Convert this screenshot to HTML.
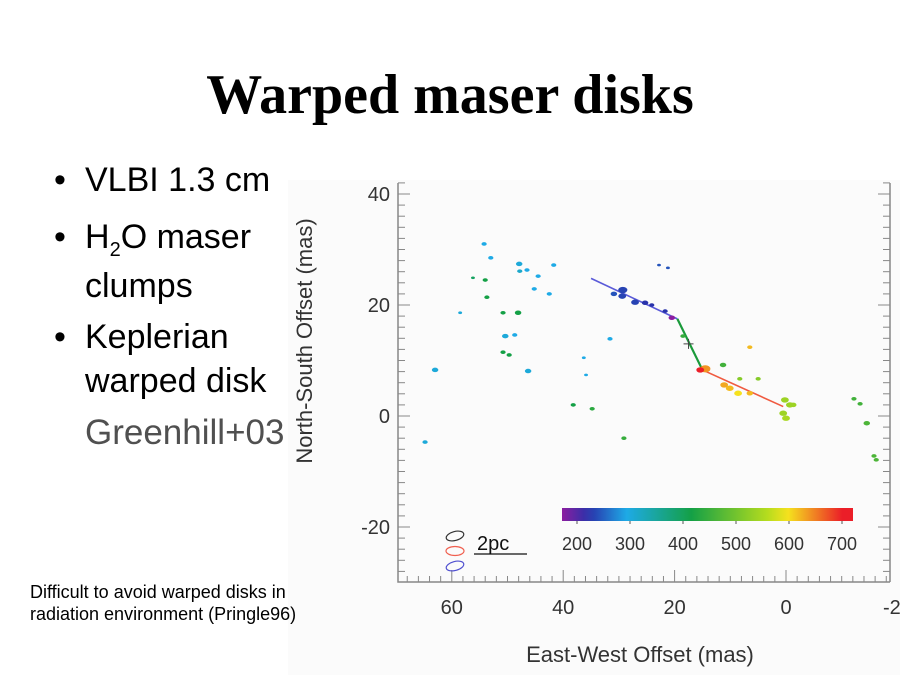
<!DOCTYPE html>
<html><head><meta charset="utf-8"><style>
body{margin:0;width:900px;height:675px;background:#fff;position:relative;overflow:hidden;font-family:"Liberation Sans",sans-serif}
.t{position:absolute;white-space:nowrap}
.b{position:absolute;left:54px;font-size:34px;line-height:44px}
.b span.d{position:absolute;left:0}
.b div{margin-left:31px}
</style></head><body>
<div class="t" style="left:0;width:900px;text-align:center;top:63px;font-family:'Liberation Serif',serif;font-weight:bold;font-size:56px">Warped maser disks</div>
<div>
<div class="b" style="top:158px"><span class="d">•</span><div>VLBI 1.3 cm</div></div>
<div class="b" style="top:215px"><span class="d">•</span><div>H<span style="font-size:20px;position:relative;top:8px">2</span>O maser<br>clumps</div></div>
<div class="b" style="top:315px"><span class="d">•</span><div>Keplerian<br>warped disk</div></div>
<div class="t" style="left:85px;top:413px;font-size:35px;color:#505050">Greenhill+03</div>
</div>
<svg id="chart" width="612" height="495" style="position:absolute;left:288px;top:180px" viewBox="288 180 612 495"></svg>
<div class="t" style="left:30px;top:581px;font-size:18px;line-height:22px;z-index:2">Difficult to avoid warped disks in<br>radiation environment (Pringle96)</div>
<script>
const xs=[54.2,53.0,56.2,54.0,47.9,47.8,46.5,44.5,41.7,45.2,53.7,42.5,58.5,50.8,48.1,50.4,48.7,50.8,49.7,46.3,63.0,36.3,35.9,31.6,22.8,21.2,38.2,34.8,29.1,64.8,-12.2,-13.3,-14.5,-15.8,-16.2,6.5,11.3,5.0,8.3,29.3,29.4,30.9,27.1,25.3,24.1,21.7,20.5,18.5,14.5,15.4,11.1,10.1,8.6,6.5,0.2,-0.7,0.5,0,-1.3];
const ys=[31.0,28.5,24.9,24.5,27.4,26.1,26.3,25.2,27.2,22.9,21.4,22.0,18.6,18.6,18.6,14.4,14.6,11.5,11.0,8.1,8.3,10.5,7.4,13.9,27.2,26.7,2.0,1.3,-4.0,-4.7,3.1,2.2,-1.3,-7.2,-7.9,12.4,9.2,6.7,6.7,22.7,21.6,22.0,20.5,20.4,20.0,18.9,17.7,14.4,8.5,8.3,5.6,5.0,4.1,4.1,2.9,2.0,0.5,-0.4,2.0];
const vel=[300,300,400,420,310,320,300,300,300,300,420,300,310,420,420,310,300,420,420,310,310,300,300,300,250,250,420,440,450,310,460,460,470,470,470,620,460,520,520,240,240,250,240,230,230,230,180,450,640,700,630,620,600,620,540,540,540,550,540];
const sizes=[2,2,1.5,2,2.5,2,2,2,2,2,2,2,1.5,2,2.5,2.5,2,2,2,2.5,2.5,1.5,1.5,2,1.5,1.5,2,2,2,2,2,2,2.5,2,2,2,2.5,2,2,3.5,3,2.5,3,2.5,2,2,2.5,2,4,3,3,3,3,2.5,3,3,3,3,2.5];
const xTicks=[60,40,20,0,-20];
const yTicks=[40,20,0,-20];
const cbTicks=[200,300,400,500,600,700];
const warpLineX=[35,19.5,15.0,0.5];
const warpLineY=[24.8,17.5,8.3,1.7];
const lineColors=['#5a5ad8','#1a9a3a','#f05a40'];
const X=v=>786-5.57*v, Y=v=>416-5.55*v;
const CB=v=>577+(v-200)*0.53;
const svg=document.getElementById('chart');
const NS='http://www.w3.org/2000/svg';
function mk(tag,attrs,parent){const e=document.createElementNS(NS,tag);for(const k in attrs)e.setAttribute(k,attrs[k]);(parent||svg).appendChild(e);return e;}
function vcol(v){const stops=[[180,[140,30,160]],[230,[40,50,170]],[300,[30,170,230]],[420,[20,160,70]],[560,[180,220,30]],[600,[245,225,30]],[700,[235,30,40]]];
 if(v<=stops[0][0])return 'rgb('+stops[0][1]+')';for(let i=1;i<stops.length;i++){if(v<=stops[i][0]){const a=stops[i-1],b=stops[i],t=(v-a[0])/(b[0]-a[0]);return 'rgb('+a[1].map((c,j)=>Math.round(c+(b[1][j]-c)*t))+')';}}return 'rgb('+stops[stops.length-1][1]+')';}
let bg=mk('rect',{x:288,y:180,width:612,height:495,fill:'#fbfbfb'});


let fr=mk('path',{d:'M398,183 V582 H890 M890,183 V582',stroke:'#888',fill:'none','stroke-width':1.5});


for(let v=-28;v<=42;v+=2){const y=Y(v);const maj=v%20===0;
 const t=mk('line',{x1:398,x2:398+(maj?12:7),y1:y,y2:y,stroke:'#888','stroke-width':1});
 
 
 const t2=mk('line',{x1:890,x2:890-(maj?12:7),y1:y,y2:y,stroke:'#888','stroke-width':1});
 
 }
for(let v=-18;v<=68;v+=2){const x=X(v);const maj=v%20===0;
 const t=mk('line',{x1:x,x2:x,y1:582,y2:582-(maj?12:6),stroke:'#888','stroke-width':1});
 
 }
yTicks.forEach(v=>{const t=mk('text',{x:390,y:Y(v)+7,'text-anchor':'end','font-size':20,fill:'#333','font-family':'Liberation Sans'});t.textContent=v;
 
 });
xTicks.forEach(v=>{const t=mk('text',{x:X(v),y:614,'text-anchor':'middle','font-size':20,fill:'#333','font-family':'Liberation Sans'});t.textContent=v;
 
 });
let xl=mk('text',{x:640,y:662,'text-anchor':'middle','font-size':22,fill:'#333','font-family':'Liberation Sans'});xl.textContent='East-West Offset (mas)';


let yl=mk('text',{x:0,y:0,'text-anchor':'middle','font-size':22,fill:'#333','font-family':'Liberation Sans',transform:'translate(312,341) rotate(-90)'});yl.textContent='North-South Offset (mas)';


const defs=mk('defs',{});const g=mk('linearGradient',{id:'cbg',x1:0,x2:1,y1:0,y2:0},defs);
for(let v=180;v<=720;v+=20){mk('stop',{offset:(v-180)/540,'stop-color':vcol(v)},g);}
let cb=mk('rect',{x:562,y:508,width:291,height:13,fill:'url(#cbg)'});


cbTicks.forEach(v=>{const t=mk('text',{x:CB(v),y:550,'text-anchor':'middle','font-size':18,fill:'#333','font-family':'Liberation Sans'});t.textContent=v;
 
 
 const k=mk('line',{x1:CB(v),x2:CB(v),y1:521,y2:524,stroke:'#555'});
 
 });
let sb=mk('text',{x:477,y:550,'font-size':20,fill:'#111','font-family':'Liberation Sans'});sb.textContent='2pc';


let sl=mk('line',{x1:474,x2:527,y1:554,y2:554,stroke:'#111','stroke-width':1.2});


[['#333',536,-15],['#f06050',551,0],['#5050d0',566,-15]].forEach(b=>{const e=mk('ellipse',{cx:455,cy:b[1],rx:9,ry:4.5,fill:'none',stroke:b[0],'stroke-width':1.2,transform:'rotate('+b[2]+' 455 '+b[1]+')'});
 
 });
for(let i=0;i<warpLineX.length-1;i++){const l=mk('line',{x1:X(warpLineX[i]),y1:Y(warpLineY[i]),x2:X(warpLineX[i+1]),y2:Y(warpLineY[i+1]),stroke:lineColors[i],'stroke-width':i==1?2.2:1.6});
 
 }
xs.forEach((x,i)=>{const c=mk('ellipse',{cx:X(x),cy:Y(ys[i]),rx:sizes[i]*1.3,ry:sizes[i]*0.9,fill:vcol(vel[i])});
 
 });
let cr=mk('path',{d:'M'+(X(17.5)-5)+','+Y(13)+'h10M'+X(17.5)+','+(Y(13)-5)+'v10',stroke:'#444','stroke-width':1});


</script>
</body></html>
